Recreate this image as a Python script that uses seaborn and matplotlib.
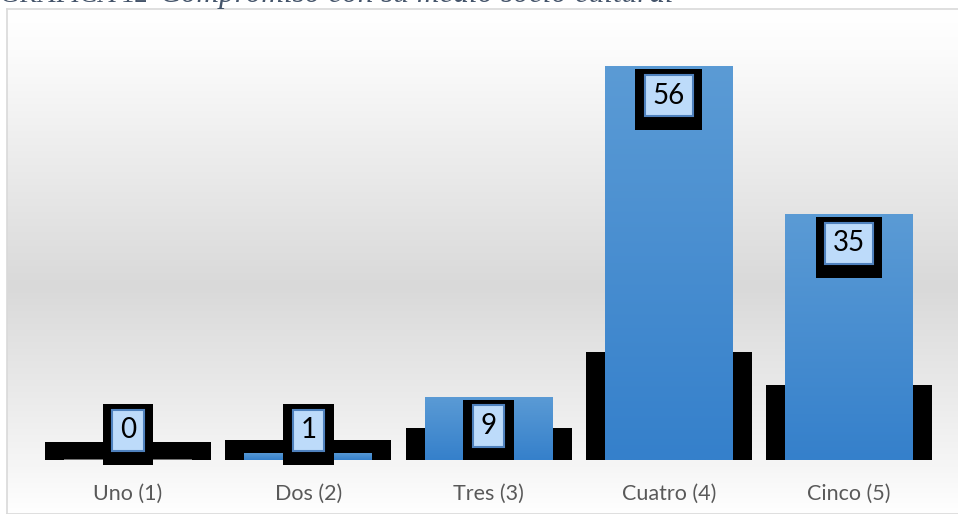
import numpy as np
import seaborn as sns
import matplotlib.pyplot as plt
from matplotlib.colors import LinearSegmentedColormap

categorias = ['Uno (1)', 'Dos (2)', 'Tres (3)', 'Cuatro (4)', 'Cinco (5)']
valores = [0, 1, 9, 56, 35]
# alturas de las sombras negras que aparecen detras de las barras
sombras = [2.6, 2.9, 4.6, 15.4, 10.6]

sns.set_style('white')
plt.rcParams['font.family'] = ['Lato', 'DejaVu Sans']

fig = plt.figure(figsize=(9.58, 5.14), dpi=100)

# fondo del grafico con degradado gris
bg = fig.add_axes([7 / 958, 0, 1.0, 1 - 9 / 514])
fondo = LinearSegmentedColormap.from_list(
    'fondo', [(0, '#ffffff'), (0.08, '#fcfcfc'), (0.55, '#d9d9d9'), (0.92, '#f7f7f7'), (1, '#ffffff')])
bg.imshow(np.linspace(0, 1, 256).reshape(-1, 1), cmap=fondo, aspect='auto', extent=[0, 1, 0, 1])
bg.set_xticks([])
bg.set_yticks([])
for s in bg.spines.values():
    s.set_color('#d9d9d9')
    s.set_linewidth(1.2)

# titulo (cortado en el borde superior, como en la imagen original)
fig.text(0.0, 1 - 2 / 514, 'GRÁFICA 12', family='Liberation Serif', fontsize=19,
         color='#44546a', va='baseline', ha='left')
fig.text(160 / 958, 1 - 2 / 514, 'Compromiso con su medio socio cultural', family='Liberation Serif',
         fontsize=22.5, style='italic', color='#44546a', va='baseline', ha='left')

ax = fig.add_axes([38 / 958, 1 - 460 / 514, 912 / 958, 422 / 514])
ax.patch.set_alpha(0)

sns.barplot(x=categorias, y=sombras, color='black', width=0.92, saturation=1, linewidth=0, ax=ax)
n_sombras = len(ax.patches)
sns.barplot(x=categorias, y=valores, color='#4a8fd2', width=0.71, saturation=1, linewidth=0, ax=ax)

azul = LinearSegmentedColormap.from_list('azul', ['#3580cb', '#5b9bd5'])
for p in ax.patches[n_sombras:]:
    x0, y0 = p.get_x(), p.get_y()
    w, h = p.get_width(), p.get_height()
    if h <= 0:
        p.set_edgecolor('#8c8c8c')
        p.set_linewidth(1.2)
        continue
    im = ax.imshow(np.linspace(0, 1, 256).reshape(-1, 1), cmap=azul, origin='lower',
                   aspect='auto', extent=[x0, x0 + w, y0, y0 + h], zorder=p.get_zorder())
    im.set_clip_path(p)
    p.set_facecolor('none')

ax.set_xlim(-0.5, 4.56)
ax.set_ylim(0, 60)

# etiquetas de datos
for i, v in enumerate(valores):
    if v >= 8.4:
        xy, dy = (i, v), -29.5
    else:
        xy, dy = (i, 0), 29.5
    ax.annotate(str(v), xy=xy, xytext=(0, dy - 4), textcoords='offset pixels',
                ha='center', va='center', fontsize=20, color='black', zorder=5,
                bbox=dict(boxstyle='square,pad=0.62', fc='black', ec='black', lw=0))
    ax.annotate(str(v), xy=xy, xytext=(0, dy), textcoords='offset pixels',
                ha='center', va='center', fontsize=20, color='black', zorder=6,
                bbox=dict(boxstyle='square,pad=0.28', fc='#bddbfa', ec='#4f81bd', lw=1.5))

ax.set_xlabel('')
ax.set_ylabel('')
ax.set_yticks([])
ax.tick_params(axis='x', length=0, pad=17, labelsize=15.5, labelcolor='#595959')
for s in ax.spines.values():
    s.set_visible(False)

plt.savefig('out.png', dpi=100)
